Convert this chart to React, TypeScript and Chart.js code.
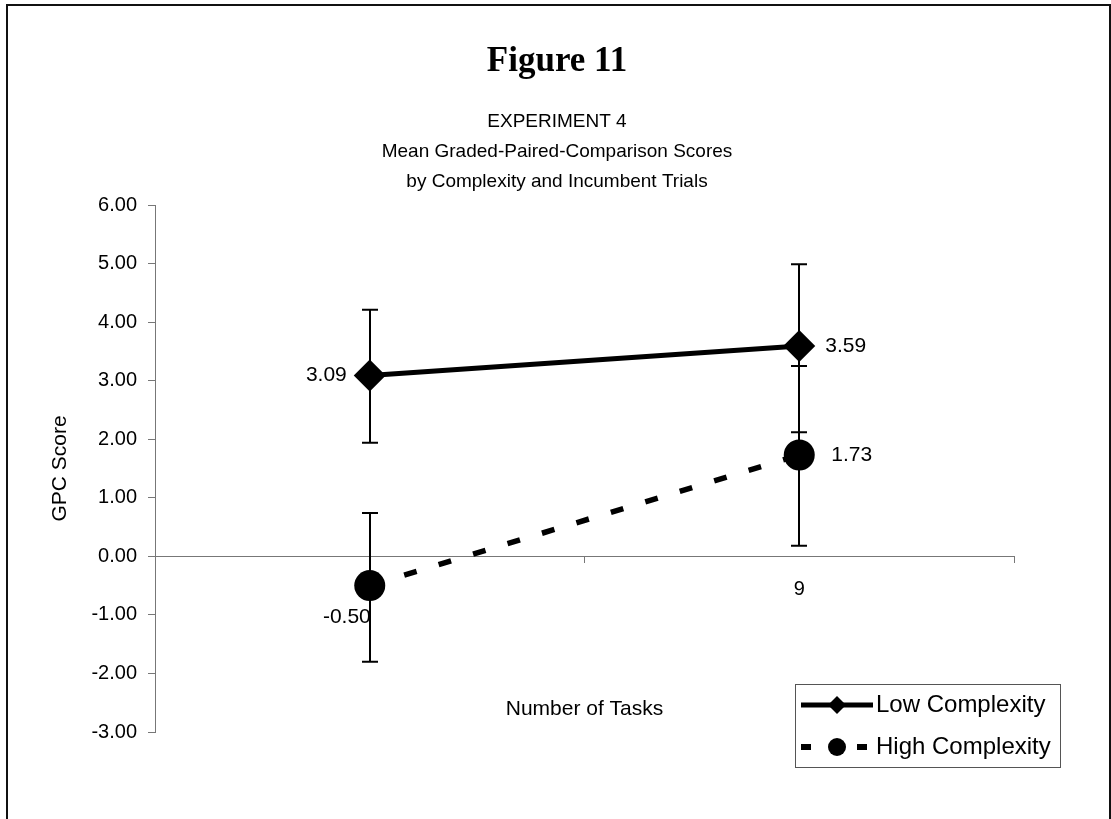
import React, { useEffect, useRef } from "react";
import { Chart, registerables } from "chart.js";

Chart.register(...registerables);

// ---- data ----
const categories = ["", "9"];
const seriesNames = ["Low Complexity", "High Complexity"];
const lowValues = [3.09, 3.59];
const highValues = [-0.5, 1.73];
const lowUpper = [4.21, 4.99];
const lowLower = [1.94, 2.12];
const highUpper = [0.74, 3.25];
const highLower = [-1.8, 0.18];
const yTicks = [-3, -2, -1, 0, 1, 2, 3, 4, 5, 6];
const titleText = "Figure 11";
const subtitleLines = [
  "EXPERIMENT 4",
  "Mean Graded-Paired-Comparison Scores",
  "by Complexity and Incumbent Trials",
];
const xTitle = "Number of Tasks";
const yTitle = "GPC Score";

const SANS = '"Liberation Sans", Arial, sans-serif';
const SERIF = '"Liberation Serif", "Times New Roman", serif';

const overlayPlugin = {
  id: "overlay",
  beforeDatasetsDraw(chart: any) {
    const ctx = chart.ctx;
    const x = chart.scales.x;
    const y = chart.scales.y;
    const bars = [
      { up: lowUpper, lo: lowLower },
      { up: highUpper, lo: highLower },
    ];
    ctx.save();
    ctx.strokeStyle = "#000";
    ctx.lineWidth = 2;
    bars.forEach((b) => {
      categories.forEach((_c, i) => {
        const px = Math.round(x.getPixelForValue(i));
        const yt = y.getPixelForValue(b.up[i]);
        const yb = y.getPixelForValue(b.lo[i]);
        ctx.beginPath();
        ctx.moveTo(px, yt);
        ctx.lineTo(px, yb);
        ctx.moveTo(px - 8, yt);
        ctx.lineTo(px + 8, yt);
        ctx.moveTo(px - 8, yb);
        ctx.lineTo(px + 8, yb);
        ctx.stroke();
      });
    });
    ctx.restore();
  },
  afterDraw(chart: any) {
    const ctx = chart.ctx;
    const area = chart.chartArea;
    const x = chart.scales.x;
    const y = chart.scales.y;
    ctx.save();
    ctx.fillStyle = "#000";
    // title
    ctx.textAlign = "center";
    ctx.textBaseline = "middle";
    ctx.font = `bold 35px ${SERIF}`;
    ctx.fillText(titleText, 557, 62);
    ctx.font = `19px ${SANS}`;
    subtitleLines.forEach((t, i) => ctx.fillText(t, 557, 122 + i * 30));
    // x title
    ctx.font = `21px ${SANS}`;
    ctx.fillText(xTitle, (area.left + area.right) / 2, 709);

    // data labels
    ctx.font = `21px ${SANS}`;
    const lab = (v: number) => v.toFixed(2);
    const p = (i: number, v: number) => [x.getPixelForValue(i), y.getPixelForValue(v)];
    let [ax, ay] = p(0, lowValues[0]);
    ctx.textAlign = "right";
    ctx.fillText(lab(lowValues[0]), ax - 23, ay);
    [ax, ay] = p(1, lowValues[1]);
    ctx.textAlign = "left";
    ctx.fillText(lab(lowValues[1]), ax + 26, ay);
    [ax, ay] = p(1, highValues[1]);
    ctx.fillText(lab(highValues[1]), ax + 32, ay);
    [ax, ay] = p(0, highValues[0]);
    ctx.textAlign = "right";
    ctx.fillText(lab(highValues[0]), ax + 1, ay + 32);

    // legend
    const bx = 795, by = 684, bw = 265, bh = 83;
    ctx.fillStyle = "#fff";
    ctx.fillRect(bx, by, bw, bh);
    ctx.strokeStyle = "#555";
    ctx.lineWidth = 1;
    ctx.strokeRect(bx + 0.5, by + 0.5, bw, bh);
    const rows = [by + 21, by + 63];
    // low
    ctx.strokeStyle = "#000";
    ctx.lineWidth = 5;
    ctx.beginPath();
    ctx.moveTo(bx + 6, rows[0]);
    ctx.lineTo(bx + 78, rows[0]);
    ctx.stroke();
    ctx.fillStyle = "#000";
    ctx.beginPath();
    const dx = bx + 42, r = 9;
    ctx.moveTo(dx - r, rows[0]);
    ctx.lineTo(dx, rows[0] - r);
    ctx.lineTo(dx + r, rows[0]);
    ctx.lineTo(dx, rows[0] + r);
    ctx.closePath();
    ctx.fill();
    // high
    ctx.setLineDash([10, 18]);
    ctx.lineWidth = 6;
    ctx.beginPath();
    ctx.moveTo(bx + 6, rows[1]);
    ctx.lineTo(bx + 78, rows[1]);
    ctx.stroke();
    ctx.setLineDash([]);
    ctx.beginPath();
    ctx.arc(dx, rows[1], 9, 0, Math.PI * 2);
    ctx.fill();
    ctx.font = `24px ${SANS}`;
    ctx.textAlign = "left";
    ctx.fillText(seriesNames[0], 876, rows[0]);
    ctx.fillText(seriesNames[1], 876, rows[1]);
    ctx.restore();
  },
};

export default function App() {
  const ref = useRef<HTMLCanvasElement | null>(null);
  useEffect(() => {
    if (!ref.current) return;
    const chart = new Chart(ref.current, {
      type: "line",
      data: {
        labels: categories,
        datasets: [
          {
            label: seriesNames[0],
            data: lowValues,
            borderColor: "#000",
            backgroundColor: "#000",
            borderWidth: 5,
            pointStyle: "rectRot",
            pointRadius: 16,
            pointBorderWidth: 0,
            pointBackgroundColor: "#000",
          },
          {
            label: seriesNames[1],
            data: highValues,
            borderColor: "#000",
            backgroundColor: "#000",
            borderWidth: 5.5,
            borderDash: [13, 23],
            pointStyle: "circle",
            pointRadius: 15.5,
            pointBorderWidth: 0,
            pointBackgroundColor: "#000",
          },
        ],
      },
      options: {
        animation: false,
        responsive: true,
        maintainAspectRatio: false,
        layout: { padding: { top: 205, bottom: 87, left: 0, right: 97 } },
        plugins: {
          legend: { display: false },
          title: { display: false },
          tooltip: { enabled: false },
        },
        scales: {
          x: {
            type: "category",
            offset: true,
            position: { y: 0 } as any,
            grid: {
              offset: true,
              drawOnChartArea: false,
              drawTicks: true,
              tickLength: 6,
              color: "#777",
            },
            border: { display: true, color: "#777", width: 1 },
            ticks: {
              color: "#000",
              padding: 15,
              font: { family: SANS, size: 20 },
            },
          },
          y: {
            type: "linear",
            min: -3,
            max: 6,
            afterFit: (s: any) => {
              s.width = 155;
            },
            afterBuildTicks: (s: any) => {
              s.ticks = yTicks.map((v) => ({ value: v }));
            },
            grid: {
              drawOnChartArea: false,
              drawTicks: true,
              tickLength: 7,
              color: "#777",
            },
            border: { display: true, color: "#777", width: 1 },
            ticks: {
              color: "#000",
              padding: 11,
              font: { family: SANS, size: 20 },
              callback: (v: any) => Number(v).toFixed(2),
            },
            title: {
              display: true,
              text: yTitle,
              color: "#000",
              font: { family: SANS, size: 21 },
              padding: { top: 48, bottom: 0 },
            },
          },
        },
      },
      plugins: [overlayPlugin],
    });
    return () => chart.destroy();
  }, []);

  return (
    <>
      <div
        style={{
          position: "fixed",
          left: 0,
          top: 0,
          width: 1111,
          height: 819,
          background: "#fff",
        }}
      >
        <canvas ref={ref} />
      </div>
      <div
        style={{
          position: "fixed",
          left: 6,
          top: 4,
          width: 1101,
          height: 830,
          border: "2px solid #111",
          borderBottom: "none",
          pointerEvents: "none",
        }}
      />
    </>
  );
}
